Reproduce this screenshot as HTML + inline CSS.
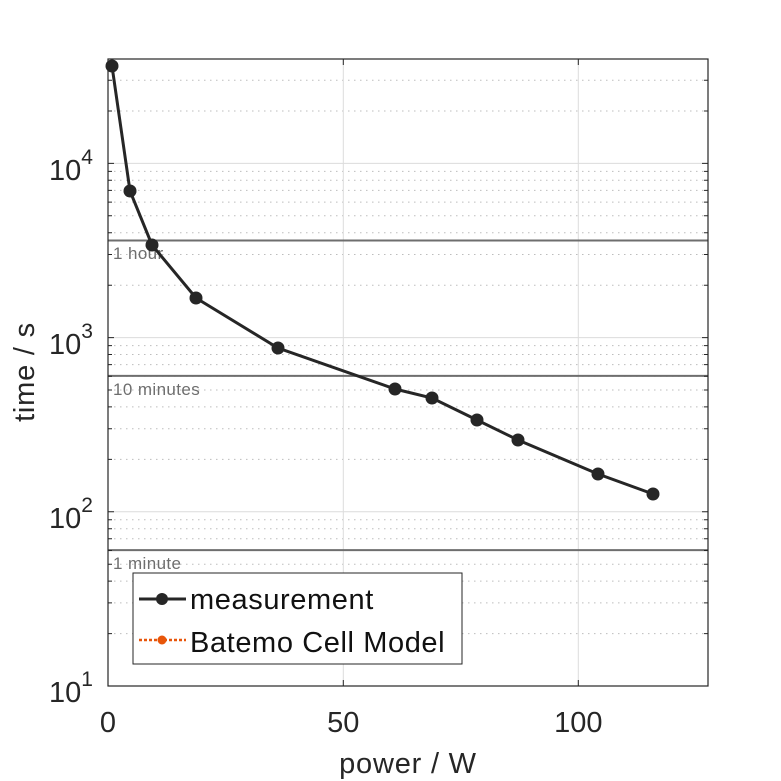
<!DOCTYPE html>
<html><head><meta charset="utf-8"><style>
html,body{margin:0;padding:0;background:#fff;}
svg{display:block;font-family:"Liberation Sans",sans-serif;}
</style></head><body>
<svg width="781" height="781" viewBox="0 0 781 781">
<rect width="781" height="781" fill="#fff"/>
<path d="M108,633.6H708M108,602.9H708M108,581.1H708M108,564.2H708M108,550.5H708M108,538.8H708M108,528.7H708M108,519.8H708
M108,459.4H708M108,428.7H708M108,406.9H708M108,390H708M108,376.3H708M108,364.6H708M108,354.5H708M108,345.6H708
M108,285.2H708M108,254.5H708M108,232.7H708M108,215.8H708M108,202.1H708M108,190.4H708M108,180.3H708M108,171.4H708
M108,111H708M108,80.3H708" stroke="#bdbdbd" stroke-width="1" stroke-dasharray="1.5,4.5"/>
<path d="M108,511.8H708M108,337.6H708M108,163.4H708M343.3,59V686M578.3,59V686" stroke="#dcdcdc" stroke-width="1"/>
<path d="M108,240.5H708M108,375.9H708M108,550.1H708" stroke="#6e6e6e" stroke-width="2"/>
<g font-size="17" fill="#6e6e6e" letter-spacing="0.4">
<text x="113" y="259">1 hour</text>
<text x="113" y="395">10 minutes</text>
<text x="113" y="569">1 minute</text>
</g>
<path d="M108,633.6h4M108,602.9h4M108,581.1h4M108,564.2h4M108,550.5h4M108,538.8h4M108,528.7h4M108,519.8h4M108,459.4h4M108,428.7h4M108,406.9h4M108,390h4M108,376.3h4M108,364.6h4M108,354.5h4M108,345.6h4M108,285.2h4M108,254.5h4M108,232.7h4M108,215.8h4M108,202.1h4M108,190.4h4M108,180.3h4M108,171.4h4M108,111h4M108,80.3h4
M708,633.6h-4M708,602.9h-4M708,581.1h-4M708,564.2h-4M708,550.5h-4M708,538.8h-4M708,528.7h-4M708,519.8h-4M708,459.4h-4M708,428.7h-4M708,406.9h-4M708,390h-4M708,376.3h-4M708,364.6h-4M708,354.5h-4M708,345.6h-4M708,285.2h-4M708,254.5h-4M708,232.7h-4M708,215.8h-4M708,202.1h-4M708,190.4h-4M708,180.3h-4M708,171.4h-4M708,111h-4M708,80.3h-4
M108,511.8h6M108,337.6h6M108,163.4h6M708,511.8h-6M708,337.6h-6M708,163.4h-6
M343.3,686v-6M578.3,686v-6M343.3,59v6M578.3,59v6" stroke="#262626" stroke-width="1"/>
<rect x="108" y="59" width="600" height="627" fill="none" stroke="#262626" stroke-width="1.2"/>
<polyline points="112,66 130,191 152,245 196,298 278,348 395,389 432,398 477,420 518,440 598,474 653,494" fill="none" stroke="#262626" stroke-width="3"/>
<g fill="#262626">
<circle cx="112" cy="66" r="6.5"/><circle cx="130" cy="191" r="6.5"/><circle cx="152" cy="245" r="6.5"/><circle cx="196" cy="298" r="6.5"/><circle cx="278" cy="348" r="6.5"/><circle cx="395" cy="389" r="6.5"/><circle cx="432" cy="398" r="6.5"/><circle cx="477" cy="420" r="6.5"/><circle cx="518" cy="440" r="6.5"/><circle cx="598" cy="474" r="6.5"/><circle cx="653" cy="494" r="6.5"/>
</g>
<rect x="133" y="573" width="329" height="91" fill="#fff" stroke="#262626" stroke-width="1"/>
<line x1="139" y1="599" x2="186" y2="599" stroke="#262626" stroke-width="3"/>
<circle cx="162" cy="599" r="6" fill="#262626"/>
<line x1="139" y1="640" x2="186" y2="640" stroke="#e8560a" stroke-width="2.5" stroke-dasharray="3,2"/>
<circle cx="162" cy="640" r="4.5" fill="#e8560a"/>
<g font-size="29" fill="#111" letter-spacing="0.6">
<text x="190" y="609">measurement</text>
<text x="190" y="652">Batemo Cell Model</text>
</g>
<g font-size="29" fill="#262626">
<text x="108" y="732" text-anchor="middle">0</text>
<text x="343.3" y="732" text-anchor="middle">50</text>
<text x="578.3" y="732" text-anchor="middle">100</text>
<text x="49" y="180">10<tspan font-size="21" dy="-16">4</tspan></text>
<text x="49" y="354">10<tspan font-size="21" dy="-16">3</tspan></text>
<text x="49" y="528">10<tspan font-size="21" dy="-16">2</tspan></text>
<text x="49" y="702">10<tspan font-size="21" dy="-16">1</tspan></text>
</g>
<text x="408" y="773" font-size="29" fill="#262626" text-anchor="middle" letter-spacing="0.8">power / W</text>
<text transform="translate(34,372) rotate(-90)" font-size="29" fill="#262626" text-anchor="middle" letter-spacing="0.8">time / s</text>
</svg>
</body></html>
